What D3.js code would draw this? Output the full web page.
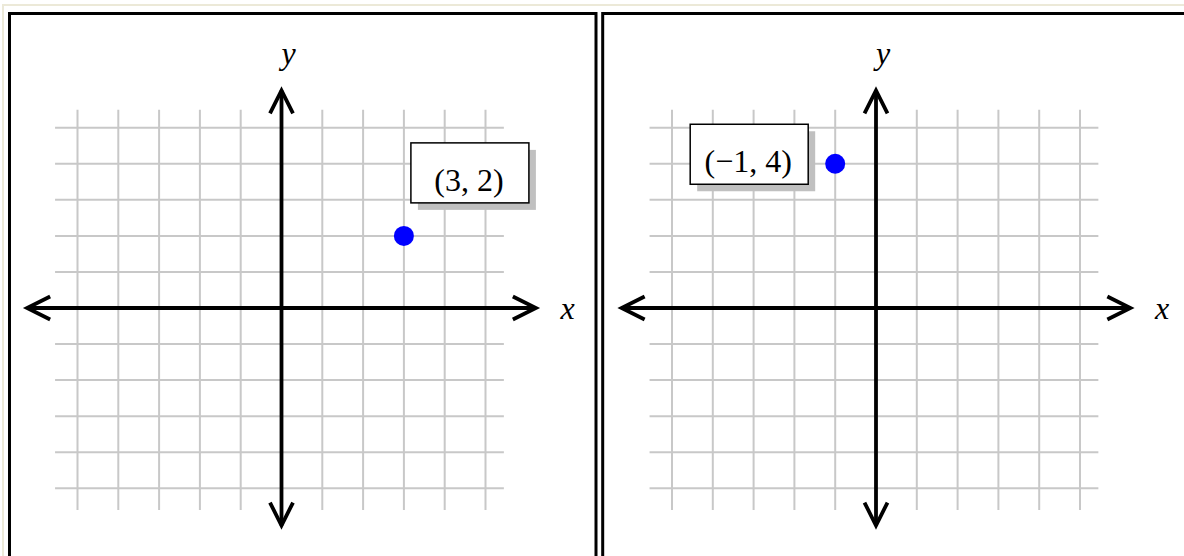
<!DOCTYPE html>
<html>
<head>
<meta charset="utf-8">
<script src="https://cdn.jsdelivr.net/npm/d3@7"></script>
<style>
  body { margin: 0; background: #fff; }
  svg { display: block; }
  text { font-family: "Liberation Serif", "Times New Roman", serif; fill: #000; }
</style>
</head>
<body>
<div id="chart"></div>
<script>
// Grid tick values (same on both axes)
const gridTicks = [-5, -4, -3, -2, -1, 0, 1, 2, 3, 4, 5];

// One plotted point per panel
const pointX = [3, -1];
const pointY = [2, 4];
const pointLabels = ["(3, 2)", "(\u22121, 4)"];

// Axis names
const axisNames = ["x", "y"];

const width = 1184;
const height = 556;

/* Panel layout: origin position in the page and where the label box sits
   relative to the point. */
const layout = {
  panelLeft: [9.5, 602.7],
  panelWidth: 586.5,
  originX: [281.5, 876],
  originY: 308,
  boxOffset: [[7, -93], [-145, -39.5]],
  boxW: 118,
  boxH: 60
};

const svg = d3.select("#chart").append("svg")
  .attr("width", width)
  .attr("height", height);

// Page frame (beige line) behind the panels
svg.append("rect")
  .attr("x", 3).attr("y", 5)
  .attr("width", width + 10).attr("height", height + 10)
  .attr("fill", "none")
  .attr("stroke", "#ece9d8")
  .attr("stroke-width", 2);

pointX.forEach((px, i) => drawPanel(i));

/*
 * Draw one coordinate-plane panel with its point and label.
 */
function drawPanel(i) {
  // Panel border
  svg.append("rect")
    .attr("x", layout.panelLeft[i])
    .attr("y", 13.5)
    .attr("width", layout.panelWidth)
    .attr("height", height)
    .attr("fill", "none")
    .attr("stroke", "#000")
    .attr("stroke-width", 3);

  const g = svg.append("g")
    .attr("transform", `translate(${layout.originX[i]},${layout.originY})`);

  const x = d3.scaleLinear().domain([-5, 5]).range([-204, 204]);
  const y = d3.scaleLinear().domain([-5, 5]).range([180.3, -180.3]);

  // Grid lines
  const grid = g.append("g")
    .attr("stroke", "#c8c8c8")
    .attr("stroke-width", 2);

  grid.selectAll("line.v")
    .data(gridTicks)
    .enter()
    .append("line")
    .attr("class", "v")
    .attr("x1", d => x(d)).attr("x2", d => x(d))
    .attr("y1", y(5.5)).attr("y2", y(-5.6));

  grid.selectAll("line.h")
    .data(gridTicks)
    .enter()
    .append("line")
    .attr("class", "h")
    .attr("y1", d => y(d)).attr("y2", d => y(d))
    .attr("x1", x(-5.55)).attr("x2", x(5.45));

  // Axes with open arrow heads at both ends
  const xEnd = x(6.32) - 3.5;
  const yEnd = y(6.13) + 3.5;
  const axes = g.append("g")
    .attr("stroke", "#000")
    .attr("stroke-width", 3.8)
    .attr("fill", "none")
    .attr("stroke-linejoin", "miter");

  axes.append("line")
    .attr("x1", -xEnd).attr("x2", xEnd)
    .attr("y1", 0).attr("y2", 0);
  axes.append("line")
    .attr("x1", 0).attr("x2", 0)
    .attr("y1", yEnd).attr("y2", -yEnd);

  const arrow = d3.line();
  axes.append("path").attr("d", arrow([[xEnd - 23, -11.5], [xEnd, 0], [xEnd - 23, 11.5]]));
  axes.append("path").attr("d", arrow([[-xEnd + 23, -11.5], [-xEnd, 0], [-xEnd + 23, 11.5]]));
  axes.append("path").attr("d", arrow([[-11.5, yEnd + 23], [0, yEnd], [11.5, yEnd + 23]]));
  axes.append("path").attr("d", arrow([[-11.5, -yEnd - 23], [0, -yEnd], [11.5, -yEnd - 23]]));

  // Axis names
  g.append("text")
    .attr("x", 286).attr("y", 10.5)
    .attr("text-anchor", "middle")
    .style("font-size", "32px")
    .style("font-style", "italic")
    .text(axisNames[0]);
  g.append("text")
    .attr("x", 7).attr("y", -244)
    .attr("text-anchor", "middle")
    .style("font-size", "32px")
    .style("font-style", "italic")
    .text(axisNames[1]);

  // The point
  const cx = x(pointX[i]);
  const cy = y(pointY[i]);
  g.append("circle")
    .attr("cx", cx).attr("cy", cy)
    .attr("r", 10)
    .attr("fill", "#0000ff");

  // Label box with drop shadow
  const bx = cx + layout.boxOffset[i][0];
  const by = cy + layout.boxOffset[i][1];
  g.append("rect")
    .attr("x", bx + 7).attr("y", by + 7)
    .attr("width", layout.boxW).attr("height", layout.boxH)
    .attr("fill", "#c0c0c0");
  g.append("rect")
    .attr("x", bx).attr("y", by)
    .attr("width", layout.boxW).attr("height", layout.boxH)
    .attr("fill", "#fff")
    .attr("stroke", "#000")
    .attr("stroke-width", 1.5);
  g.append("text")
    .attr("x", bx + layout.boxW / 2 - 1)
    .attr("y", by + 47.8)
    .attr("text-anchor", "middle")
    .style("font-size", "32px")
    .text(pointLabels[i]);
}
</script>
</body>
</html>
